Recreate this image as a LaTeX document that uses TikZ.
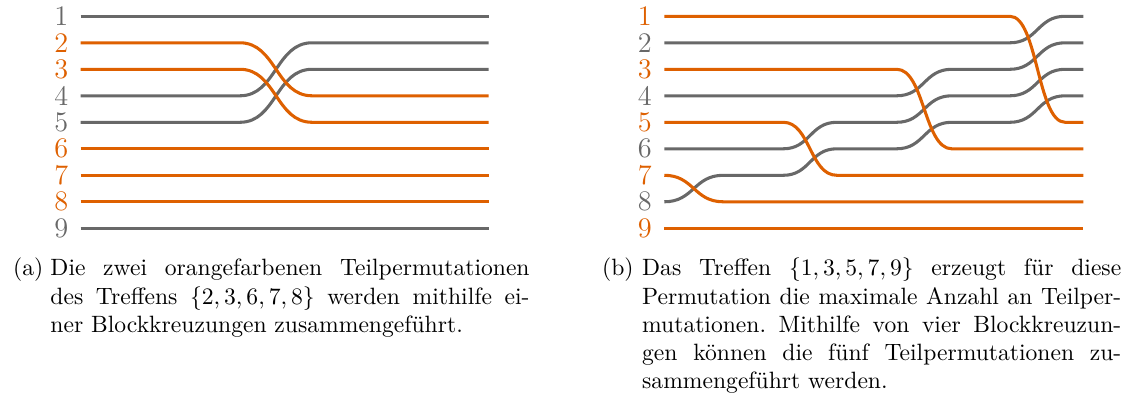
\documentclass[tikz,border=0pt]{standalone}
\definecolor{og}{RGB}{222,96,0}
\definecolor{gr}{RGB}{104,104,104}
\tikzset{
  strand/.style={line width=1.3pt},
  ostrand/.style={strand,draw=og},
  gstrand/.style={strand,draw=gr},
  scurve/.style={to path={.. controls +(#1,0) and +(-#1,0) .. (\tikztotarget)}},
  lab/.style={anchor=east,inner sep=0pt,font=\large},
  capline/.style={anchor=base west,inner sep=0pt,font=\frenchspacing},
}
\newcommand{\jline}[1]{\hbox to 203pt{#1}}
\begin{document}
\begin{tikzpicture}[x=0.4237pt,y=-0.4237pt]
\useasboundingbox (0,0) rectangle (1128,398);
% ---------- (a) ----------
\foreach \i/\c in {1/gr,2/og,3/og,4/gr,5/gr,6/og,7/og,8/og,9/gr}{
  \node[lab,text=\c] (la\i) at (68.7,{16.3+(\i-1)*26.5}) {\i};
}
\draw[gstrand] (80.7,16.3) -- (488.7,16.3);
\draw[gstrand] (80.7,95.8) -- (240,95.8) to[scurve=36] (312,42.8) -- (488.7,42.8);
\draw[gstrand] (80.7,122.3) -- (240,122.3) to[scurve=36] (312,69.3) -- (488.7,69.3);
\draw[gstrand] (80.7,228.3) -- (488.7,228.3);
\draw[ostrand] (80.7,42.8) -- (240,42.8) to[scurve=36] (312,95.8) -- (488.7,95.8);
\draw[ostrand] (80.7,69.3) -- (240,69.3) to[scurve=36] (312,122.3) -- (488.7,122.3);
\draw[ostrand] (80.7,148.8) -- (488.7,148.8);
\draw[ostrand] (80.7,175.3) -- (488.7,175.3);
\draw[ostrand] (80.7,201.8) -- (488.7,201.8);
% ---------- (b) ----------
\foreach \i/\c in {1/og,2/gr,3/og,4/gr,5/og,6/gr,7/og,8/gr,9/og}{
  \node[lab,text=\c] (lb\i) at (652.3,{16.3+(\i-1)*26.5}) {\i};
}
% gray strands
\draw[gstrand] (664.3,42.8) -- (1010,42.8) to[scurve=27.5] (1065,16.3) -- (1083.3,16.3);
\draw[gstrand] (664.3,95.8) -- (896.7,95.8) to[scurve=27.5] (951.7,69.3) -- (1010,69.3) to[scurve=27.5] (1065,42.8) -- (1083.3,42.8);
\draw[gstrand] (664.3,148.8) -- (783.3,148.8) to[scurve=26.7] (836.7,122.3) -- (896.7,122.3) to[scurve=27.5] (951.7,95.8) -- (1010,95.8) to[scurve=27.5] (1065,69.3) -- (1083.3,69.3);
\draw[gstrand] (664.3,201.8) to[scurve=29.5] (723.3,175.3) -- (783.3,175.3) to[scurve=26.7] (836.7,148.8) -- (896.7,148.8) to[scurve=27.5] (951.7,122.3) -- (1010,122.3) to[scurve=27.5] (1065,95.8) -- (1083.3,95.8);
% orange strands
\draw[ostrand] (664.3,16.3) -- (1010,16.3) to[scurve=27.5] (1065,122.3) -- (1083.3,122.3);
\draw[ostrand] (664.3,69.3) -- (896.7,69.3) to[scurve=27.5] (951.7,148.8) -- (1083.3,148.8);
\draw[ostrand] (664.3,122.3) -- (783.3,122.3) to[scurve=26.7] (836.7,175.3) -- (1083.3,175.3);
\draw[ostrand] (664.3,175.3) to[scurve=29.5] (723.3,201.8) -- (1083.3,201.8);
\draw[ostrand] (664.3,228.3) -- (1083.3,228.3);
% ---------- captions ----------
\node[capline] (capa) at (12.7,276) {(a)};
\node[capline] (ca1) at (50,276) {\jline{Die zwei orangefarbenen Teilpermutationen}};
\node[capline] (ca2) at (50,304.1) {\jline{des Treffens $\{2,3,6,7,8\}$ werden mithilfe ei-}};
\node[capline] (ca3) at (50,332.2) {ner Blockkreuzungen zusammengeführt.};
\node[capline] (capb) at (601.7,276) {(b)};
\node[capline] (cb1) at (641.7,276) {\jline{Das Treffen $\{1,3,5,7,9\}$ erzeugt für diese}};
\node[capline] (cb2) at (641.7,304.1) {\jline{Permutation die maximale Anzahl an Teilper-}};
\node[capline] (cb3) at (641.7,332.2) {\jline{mutationen. Mithilfe von vier Blockkreuzun-}};
\node[capline] (cb4) at (641.7,360.3) {\jline{gen können die fünf Teilpermutationen zu-}};
\node[capline] (cb5) at (641.7,388.4) {sammengeführt werden.};
\end{tikzpicture}
\end{document}
